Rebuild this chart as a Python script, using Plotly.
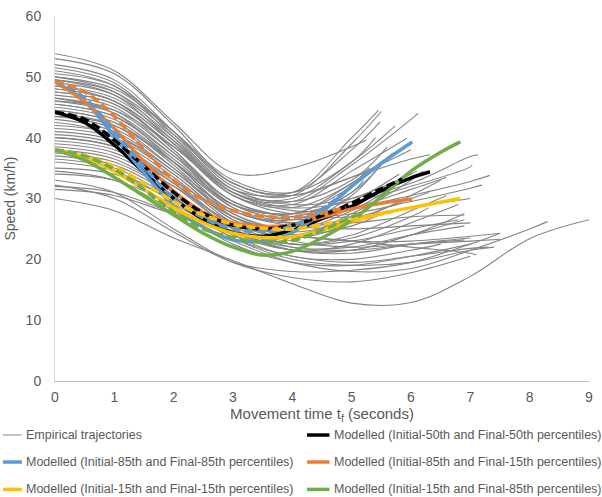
import plotly.graph_objects as go

# ---------------- Empirical trajectories ----------------
# speeds (km/h) at t = 0, 1, 2, ... seconds, followed by each trajectory's final point
GRAY_SPEEDS = [
    [53.8, 51.0, 42.5, 34.2, 35.0, 38.5],
    [53.0, 50.5, 42.0, 32.5, 31.0, 40.0],
    [52.0, 49.5, 41.0, 32.0, 30.5, 39.0],
    [51.0, 48.5, 40.0, 31.0, 29.5, 35.5, 43.0],
    [50.5, 48.5, 41.0, 32.5, 31.0, 38.0],
    [50.0, 47.5, 39.5, 31.0, 30.0, 36.0],
    [49.5, 47.0, 39.0, 30.5, 29.0, 34.5],
    [48.5, 46.5, 39.5, 31.5, 30.5, 33.5, 36.5],
    [51.5, 49.0, 40.5, 31.5, 29.0, 30.0, 32.5, 36.9],
    [47.5, 45.5, 38.5, 31.0, 28.5, 29.5, 32.0, 35.2],
    [48.0, 46.0, 39.0, 31.0, 28.0, 28.5, 30.5, 32.8],
    [46.5, 44.5, 37.5, 29.5, 27.0, 27.5, 29.5, 31.7],
    [45.5, 43.5, 37.0, 29.5, 27.0, 27.0, 28.5],
    [44.5, 42.5, 36.0, 28.5, 26.0, 26.0, 27.0],
    [43.5, 41.5, 35.0, 28.0, 25.5, 25.0, 25.5],
    [40.0, 38.5, 33.0, 27.0, 24.0, 23.0, 23.0, 23.8],
    [38.5, 37.0, 32.0, 26.0, 23.0, 22.0, 22.5, 23.0],
    [36.5, 35.0, 30.0, 24.5, 22.0, 21.5, 22.5],
    [31.5, 30.5, 27.5, 25.5, 24.0, 23.0, 22.0, 21.0],
    [30.0, 28.0, 23.5, 19.8, 16.0, 12.8, 12.9, 17.2, 23.4],
    [32.0, 31.0, 27.5, 23.0, 19.5, 18.0, 18.5, 21.5, 25.0],
    [32.2, 30.0, 24.5, 19.5, 18.0, 18.2, 19.5, 22.5],
    [33.0, 31.0, 25.0, 19.5, 17.0, 16.3, 17.8],
    [34.5, 33.0, 28.0, 22.5, 19.5, 19.0, 20.5],
    [49.0, 47.0, 40.0, 31.5, 29.5, 33.0],
    [48.5, 46.0, 38.0, 29.0, 27.0, 31.0],
    [48.0, 46.0, 39.0, 30.5, 28.5, 32.5],
    [47.0, 45.0, 37.5, 28.5, 26.0, 29.5],
    [46.5, 44.0, 36.0, 28.0, 26.5, 31.0],
    [46.0, 44.0, 37.0, 29.0, 27.5, 30.0, 34.0],
    [45.5, 43.5, 36.5, 29.0, 26.5, 28.5],
    [45.0, 43.0, 36.0, 27.5, 25.0, 28.0],
    [44.0, 42.0, 35.0, 27.0, 25.5, 30.5],
    [43.0, 41.0, 34.5, 27.0, 24.5, 26.5, 30.0],
    [42.5, 40.5, 34.0, 26.5, 24.0, 25.5],
    [42.0, 40.5, 34.5, 27.5, 25.0],
    [41.5, 40.0, 34.0, 26.5, 23.5, 26.0, 30.5],
    [41.0, 39.5, 33.5, 26.0, 22.5, 24.0, 28.0],
    [40.5, 39.0, 33.0, 25.5, 22.5, 23.0, 25.0],
    [39.5, 38.0, 32.5, 25.5, 22.0, 22.0, 24.0],
    [39.0, 37.5, 32.0, 25.0, 21.5, 21.0, 22.5],
    [37.5, 36.0, 31.0, 25.0, 22.5, 23.5, 27.0],
    [37.0, 35.5, 30.5, 24.0, 20.5, 20.0, 21.5],
    [36.0, 34.5, 29.5, 23.5, 20.5, 19.5, 20.5, 21.8],
    [35.0, 34.0, 29.5, 23.5, 20.0, 19.0, 19.5, 21.5],
    [34.0, 33.0, 29.0, 24.0, 21.5, 21.5, 24.0],
    [47.5, 45.5, 38.0, 29.5, 27.5, 32.5],
    [44.5, 42.5, 35.5, 27.0, 24.0, 27.5, 33.0],
    [43.5, 42.0, 36.0, 29.0, 27.5, 32.0],
    [50.0, 48.0, 41.0, 33.0, 31.0, 36.0],
    [49.5, 47.5, 40.5, 32.5, 30.5, 33.5],
    [46.0, 44.5, 38.5, 30.5, 27.5, 28.5, 31.5],
    [40.0, 38.5, 32.5, 25.0, 21.5, 22.5, 26.0],
    [38.0, 36.5, 31.0, 24.5, 21.5, 21.5, 24.0],
]
GRAY_END_TIME = [
    5.25, 5.45, 5.5, 6.12, 5.48, 5.73, 5.93, 6.32, 7.13, 7.03, 7.33, 7.2,
    7.0, 6.9, 7.0, 7.5, 7.5, 6.9, 7.1, 9.0, 8.3, 7.5, 7.0, 7.0,
    5.6, 5.5, 5.3, 5.8, 5.2, 6.1, 5.5, 5.7, 5.4, 6.3, 5.6, 5.0,
    6.5, 6.6, 6.8, 6.9, 7.0, 6.3, 6.5, 7.3, 7.4, 6.9,
    5.7, 6.2, 5.5, 5.4, 6.0, 6.6, 6.8, 6.9,
]
GRAY_END_SPEED = [
    39.6, 44.5, 44.3, 44.0, 42.6, 41.9, 39.9, 37.2, 37.2, 35.5, 33.8, 32.2,
    30.0, 27.3, 26.0, 24.3, 23.3, 23.2, 20.7, 26.5, 26.2, 24.3, 20.5, 22.5,
    38.5, 35.5, 35.0, 34.0, 33.0, 34.5, 31.5, 32.0, 34.5, 31.0, 28.0, 27.0,
    33.0, 30.5, 26.5, 25.5, 23.5, 28.5, 22.5, 22.0, 22.0, 27.5,
    37.5, 34.5, 36.0, 40.0, 38.0, 33.5, 29.0, 26.5,
]

# ---------------- Modelled trajectories ----------------
BLACK_T = [0, 0.5, 1, 1.5, 2, 2.5, 3, 3.5, 4, 4.5, 5, 5.5, 6, 6.32]
BLACK_V = [44.2, 42.5, 38.8, 34.3, 30.0, 26.6, 24.4, 23.8, 24.8, 26.7, 28.7, 31.3, 33.4, 34.4]
BLACK_DASH_T = [0, 0.5, 1, 1.5, 2, 2.5, 3, 3.5, 4, 4.5, 5, 5.5, 5.85]
BLACK_DASH_V = [44.2, 43.0, 39.6, 35.3, 31.0, 27.6, 25.6, 25.0, 25.6, 27.2, 29.2, 31.6, 33.2]

BLUE_T = [0, 0.5, 1, 1.5, 2, 2.5, 3, 3.5, 4, 4.5, 5, 5.5, 6.02]
BLUE_V = [49.2, 46.0, 40.2, 34.2, 28.8, 25.3, 23.2, 23.0, 24.4, 27.8, 32.0, 35.8, 39.3]
BLUE_DASH_T = [0, 0.5, 1, 1.5, 2, 2.5, 3, 3.5, 4, 4.5, 5.0]
BLUE_DASH_V = [49.2, 46.5, 41.0, 35.2, 30.0, 26.8, 25.0, 24.6, 25.5, 28.2, 32.0]

ORANGE_T = [0, 0.5, 1, 1.5, 2, 2.5, 3, 3.5, 4, 4.5, 5, 5.5, 6.02]
ORANGE_V = [49.2, 45.9, 41.5, 36.0, 31.2, 27.7, 26.0, 25.4, 25.7, 26.9, 28.3, 29.2, 29.9]
ORANGE_DASH_T = [0, 0.5, 1, 1.5, 2, 2.5, 3, 3.5, 4, 4.5, 4.9]
ORANGE_DASH_V = [49.2, 47.5, 43.5, 38.0, 33.0, 29.8, 28.0, 27.1, 26.9, 27.6, 28.5]

YELLOW_T = [0, 0.5, 1, 1.5, 2, 2.5, 3, 3.5, 4, 4.5, 5, 5.5, 6, 6.5, 6.83]
YELLOW_V = [38.0, 36.8, 34.5, 31.5, 28.5, 26.0, 24.3, 23.6, 23.7, 24.8, 26.2, 27.5, 28.5, 29.4, 30.0]
YELLOW_DASH_T = [0, 0.5, 1, 1.5, 2, 2.5, 3, 3.5, 4, 4.5, 5, 5.5, 5.7]
YELLOW_DASH_V = [38.0, 37.0, 35.3, 32.5, 29.5, 27.3, 25.8, 25.1, 25.0, 25.7, 26.6, 27.5, 27.9]

GREEN_T = [0, 0.5, 1, 1.5, 2, 2.5, 3, 3.5, 4, 4.5, 5, 5.5, 6, 6.5, 6.83]
GREEN_V = [38.0, 36.3, 33.5, 30.4, 27.3, 24.3, 22.0, 20.7, 21.3, 23.5, 26.4, 30.3, 34.5, 37.6, 39.3]
GREEN_DASH_T = [0, 0.5, 1, 1.5, 2, 2.5, 3, 3.5, 4, 4.5, 5.1]
GREEN_DASH_V = [38.0, 37.0, 34.8, 31.5, 27.8, 25.0, 23.6, 22.8, 23.1, 24.8, 27.4]

LEGEND_NAMES = [
    "Empirical trajectories",
    "Modelled (Initial-50th and Final-50th percentiles)",
    "Modelled (Initial-85th and Final-85th percentiles)",
    "Modelled (Initial-85th and Final-15th percentiles)",
    "Modelled (Initial-15th and Final-15th percentiles)",
    "Modelled (Initial-15th and Final-85th percentiles)",
]
X_TICKS = [0, 1, 2, 3, 4, 5, 6, 7, 8, 9]
Y_TICKS = [0, 10, 20, 30, 40, 50, 60]

GRAY = "#858585"
TEXT = "#595959"
FONT = "Liberation Sans"

fig = go.Figure()

for i, speeds in enumerate(GRAY_SPEEDS):
    times = list(range(len(speeds))) + [GRAY_END_TIME[i]]
    vals = list(speeds) + [GRAY_END_SPEED[i]]
    fig.add_trace(go.Scatter(
        x=times, y=vals, mode="lines",
        line=dict(color=GRAY, width=1.1, shape="spline", smoothing=1.0),
        name=LEGEND_NAMES[0], showlegend=False, hoverinfo="skip"))

models = [
    (BLACK_T, BLACK_V, BLACK_DASH_T, BLACK_DASH_V, "#000000", LEGEND_NAMES[1]),
    (BLUE_T, BLUE_V, BLUE_DASH_T, BLUE_DASH_V, "#5B9BD5", LEGEND_NAMES[2]),
    (ORANGE_T, ORANGE_V, ORANGE_DASH_T, ORANGE_DASH_V, "#ED7D31", LEGEND_NAMES[3]),
    (YELLOW_T, YELLOW_V, YELLOW_DASH_T, YELLOW_DASH_V, "#FFC000", LEGEND_NAMES[4]),
    (GREEN_T, GREEN_V, GREEN_DASH_T, GREEN_DASH_V, "#70AD47", LEGEND_NAMES[5]),
]
for t, v, td, vd, col, nm in models:
    fig.add_trace(go.Scatter(
        x=t, y=v, mode="lines", name=nm, showlegend=False,
        line=dict(color=col, width=3.5, shape="spline", smoothing=1.0)))
for t, v, td, vd, col, nm in models:
    fig.add_trace(go.Scatter(
        x=td, y=vd, mode="lines", name=nm + " (dashed)", showlegend=False,
        line=dict(color=col, width=3.5, shape="spline", smoothing=1.0, dash="9px,4px")))

# manual legend (two columns, three rows)
legend_colors = [GRAY, "#000000", "#5B9BD5", "#ED7D31", "#FFC000", "#70AD47"]
legend_widths = [1, 3.5, 3.5, 3.5, 3.5, 3.5]
row_y = [-0.148, -0.222, -0.297]
col_x = [(-0.0975, -0.0620, -0.058), (0.472, 0.514, 0.518)]
for k, nm in enumerate(LEGEND_NAMES):
    r, c = divmod(k, 2)
    x0, x1, xt = col_x[c]
    fig.add_shape(type="line", xref="paper", yref="paper",
                  x0=x0, x1=x1, y0=row_y[r], y1=row_y[r],
                  line=dict(color=legend_colors[k], width=legend_widths[k]))
    fig.add_annotation(x=xt, y=row_y[r], xref="paper", yref="paper",
                       text=nm, showarrow=False, xanchor="left", yanchor="middle",
                       font=dict(family=FONT, size=12.5, color=TEXT))

fig.update_layout(
    width=602, height=497,
    margin=dict(l=55, r=13, t=16, b=116, autoexpand=False),
    paper_bgcolor="white", plot_bgcolor="white",
    showlegend=False,
    font=dict(family=FONT, color=TEXT),
)
fig.update_xaxes(
    range=[0, 9], tickvals=X_TICKS, showgrid=False, zeroline=False,
    showline=True, linecolor="#bfbfbf", linewidth=1, ticks="",
    tickfont=dict(family=FONT, size=14, color=TEXT), ticklabelstandoff=3,
    title=dict(text="Movement time t<sub>f</sub> (seconds)", standoff=0,
               font=dict(family=FONT, size=15, color=TEXT)),
    automargin=False,
)
fig.update_yaxes(
    range=[0, 60], tickvals=Y_TICKS, showgrid=False, zeroline=False,
    showline=True, linecolor="#d9d9d9", linewidth=1, ticks="",
    tickfont=dict(family=FONT, size=14, color=TEXT), ticklabelstandoff=10,
    title=dict(text="Speed (km/h)", standoff=6,
               font=dict(family=FONT, size=14, color=TEXT)),
    automargin=False,
)

fig.write_html("out.html", config={"displayModeBar": False},
               post_script="document.body.style.margin='0';")
